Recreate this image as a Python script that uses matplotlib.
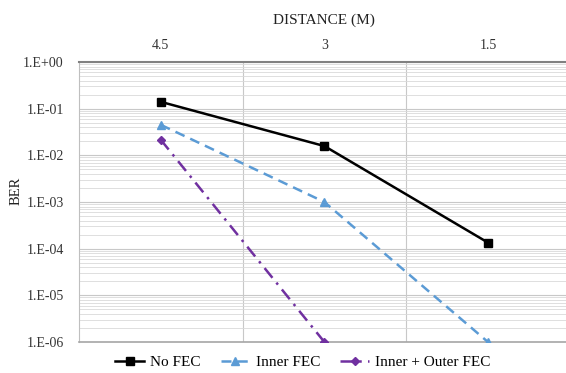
import matplotlib
matplotlib.use("Agg")
import matplotlib.pyplot as plt
from matplotlib.ticker import FixedLocator, LogLocator, NullFormatter

plt.rcParams['font.family'] = ['Liberation Serif', 'DejaVu Serif']

# distances along the top axis and BER per scheme
distances = ['4.5', '3', '1.5']
ber_no_fec = [0.14, 0.0158, 1.35e-4]
ber_inner = [0.045, 1.0e-3, 1.0e-6]
ber_inner_outer = [0.0215, 1.0e-6]
y_ticks = [1, 1e-1, 1e-2, 1e-3, 1e-4, 1e-5, 1e-6]
y_tick_labels = ['1.E+00', '1.E-01', '1.E-02', '1.E-03', '1.E-04', '1.E-05', '1.E-06']

fig = plt.figure(figsize=(5.66, 3.73), dpi=100)
ax = fig.add_axes([0.1396, 0.0831, 0.867, 0.7507])

x = list(range(len(distances)))
ax.plot(x, ber_no_fec, color='black', lw=1.8, marker='s', ms=5.5,
        label='No FEC', zorder=5)
ax.plot(x, ber_inner, color='#5B9BD5', lw=1.8, ls=(0, (4, 2.5)), marker='^', ms=5.5,
        label='Inner FEC', zorder=4)
ax.plot(x[:len(ber_inner_outer)], ber_inner_outer, color='#7030A0', lw=1.8,
        ls=(0, (5, 2.5, 1, 2.5)), marker='D', ms=4.5,
        label='Inner + Outer FEC', zorder=4)

ax.set_yscale('log')
ax.set_ylim(1e-6, 1)
ax.set_xlim(-0.5, 2.5)

ax.yaxis.set_major_locator(FixedLocator(y_ticks))
ax.set_yticklabels(y_tick_labels)
ax.yaxis.set_minor_locator(LogLocator(base=10, subs=range(2, 10)))
ax.yaxis.set_minor_formatter(NullFormatter())

ax.xaxis.tick_top()
ax.xaxis.set_label_position('top')
ax.set_xticks(x)
ax.set_xticklabels(distances)
ax.set_xticks([0.5, 1.5], minor=True)
ax.set_xlabel('DISTANCE (M)', fontsize=11, color='#222222', labelpad=11)
ax.set_ylabel('BER', fontsize=10.5, color='#222222')
ax.yaxis.set_label_coords(-0.115, 0.54)

ax.tick_params(which='both', length=0)
ax.tick_params(axis='both', labelsize=10, colors='#333333', pad=7)
ax.tick_params(axis='y', pad=11)

ax.grid(which='major', axis='y', color='#c8c8c8', lw=0.8)
ax.grid(which='minor', axis='y', color='#d9d9d9', lw=0.6)
ax.grid(which='minor', axis='x', color='#c8c8c8', lw=0.8)
ax.set_axisbelow(True)

ax.spines['top'].set_color('#808080')
ax.spines['top'].set_linewidth(1.5)
ax.spines['bottom'].set_color('#a6a6a6')
ax.spines['bottom'].set_linewidth(1.2)
ax.spines['left'].set_color('#bfbfbf')
ax.spines['left'].set_linewidth(0.8)
ax.spines['right'].set_visible(False)

fig.legend(loc='center', bbox_to_anchor=(0.535, 0.028), ncol=3, frameon=False,
           fontsize=11, handlelength=1.9, columnspacing=1.3, handletextpad=0.4)

fig.savefig('out.png', dpi=100)
